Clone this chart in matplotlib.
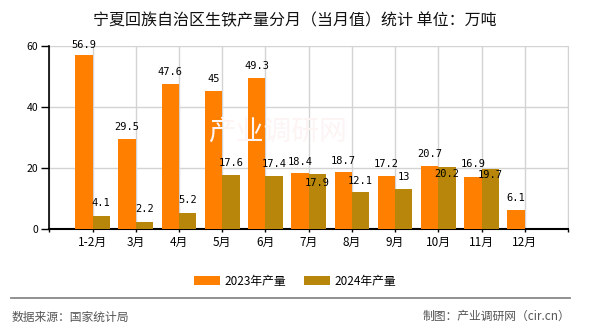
import numpy as np
import matplotlib
matplotlib.use("Agg")
import matplotlib.pyplot as plt
from matplotlib.lines import Line2D

plt.rcParams['font.family'] = ['Noto Sans CJK SC', 'DejaVu Sans']

# data
months = ['1-2月', '3月', '4月', '5月', '6月', '7月', '8月', '9月', '10月', '11月', '12月']
prod_2023 = [56.9, 29.5, 47.6, 45, 49.3, 18.4, 18.7, 17.2, 20.7, 16.9, 6.1]
prod_2024 = [4.1, 2.2, 5.2, 17.6, 17.4, 17.9, 12.1, 13, 20.2, 19.7, None]
series_names = ['2023年产量', '2024年产量']

# label vertical offsets (pixels, label centre relative to bar top)
off_2023 = [10, 12, 12, 12, 12, 11, 11, 12, 12, 13, 12]
off_2024 = [13, 13, 13, 12, 12, -9, 11, 12, -7, -6, 0]

c23 = '#FF8000'
c24 = '#B8860B'

fig = plt.figure(figsize=(5.9, 3.3), dpi=100)
ax = fig.add_axes([0.0836, 0.307, 0.8791, 0.5545])

x = np.arange(len(months))
w = 0.4
v24 = np.array([np.nan if v is None else v for v in prod_2024])
ax.bar(x - w / 2, prod_2023, w, color=c23, zorder=3, label=series_names[0])
ax.bar(x + w / 2, v24, w, color=c24, zorder=3, label=series_names[1])

for i, v in enumerate(prod_2023):
    ax.annotate(f'{v:g}', (x[i] - w / 2, v), xytext=(0, off_2023[i]),
                textcoords='offset pixels', ha='center', va='center',
                fontsize=7.5, family='DejaVu Sans Mono', zorder=5)
for i, v in enumerate(prod_2024):
    if v is None:
        continue
    ax.annotate(f'{v:g}', (x[i] + w / 2, v), xytext=(0, off_2024[i]),
                textcoords='offset pixels', ha='center', va='center',
                fontsize=7.5, family='DejaVu Sans Mono', zorder=5)

ax.set_xlim(-1, len(months))
ax.set_ylim(0, 60)
ax.set_yticks([0, 20, 40, 60])
ticks = list(range(-1, len(months) + 1))
ax.set_xticks(ticks)
ax.set_xticklabels([''] + months + [''])
ax.tick_params(axis='x', length=2.5, width=1, pad=2.5, labelsize=8.5, direction='out')
ax.tick_params(axis='y', length=5.5, width=1, pad=2.5, labelsize=7.5, direction='out')

ax.grid(True, color='#d3d3d3', linewidth=1, zorder=0)
ax.set_axisbelow(True)
ax.spines['top'].set_visible(False)
ax.spines['right'].set_color('#d3d3d3')
ax.spines['left'].set_linewidth(1.2)
ax.spines['bottom'].set_linewidth(1.5)

fig.text(0.5, 0.938, '宁夏回族自治区生铁产量分月（当月值）统计 单位：万吨',
         ha='center', va='center', fontsize=11.5, color='#111111')

fig.legend(loc='center', bbox_to_anchor=(0.5, 0.148), ncol=2, frameon=False,
           fontsize=8.5, handlelength=2.2, handleheight=0.9, columnspacing=1.5,
           handletextpad=0.4)

# faint watermark
fig.text(0.47, 0.6, '产业调研网', ha='center', va='center', fontsize=20,
         color='#fdf4f4', zorder=0)

fig.add_artist(Line2D([0.018, 0.966], [0.096, 0.096], color='#888888', linewidth=1.3,
                      transform=fig.transFigure))
fig.text(0.02, 0.04, '数据来源：国家统计局', ha='left', va='center', fontsize=8.5, color='#555555')
fig.text(0.966, 0.04, '制图：产业调研网（cir.cn）', ha='right', va='center', fontsize=8.5, color='#555555')

fig.savefig('out.png', dpi=100)
